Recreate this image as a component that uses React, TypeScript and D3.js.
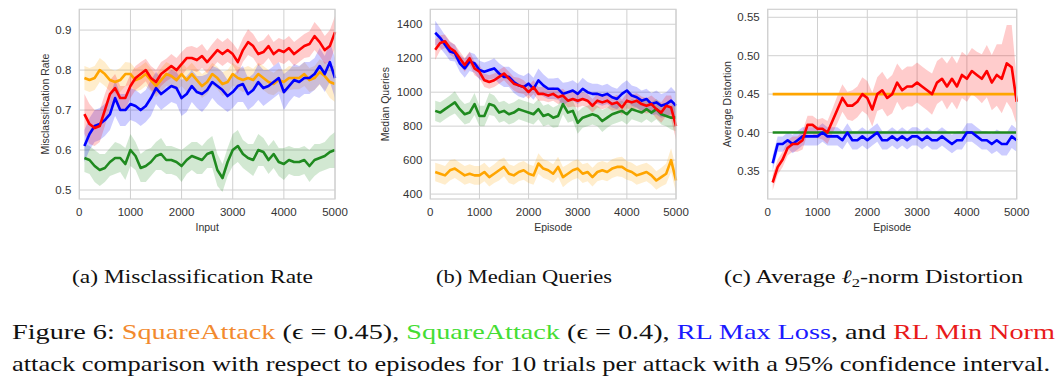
import React from "react";
import * as d3 from "d3";

// Episodes at which the moving average is sampled
const episodes = d3.range(100, 5001, 100);

// ---------- Panel (a): Misclassification Rate ----------
const misSq045 = [0.78,0.775,0.78,0.80,0.79,0.775,0.77,0.775,0.79,0.79, 0.775,0.78,0.79,0.775,0.76,0.775,0.79,0.785,0.775,0.79, 0.775,0.79,0.775,0.76,0.77,0.79,0.78,0.765,0.77,0.79, 0.78,0.775,0.78,0.775,0.79,0.78,0.77,0.765,0.775,0.77, 0.78,0.78,0.78,0.79,0.775,0.78,0.795,0.785,0.77,0.765];
const misSq040 = [0.58,0.575,0.56,0.55,0.555,0.57,0.58,0.58,0.565,0.60, 0.585,0.555,0.56,0.57,0.585,0.59,0.575,0.575,0.57,0.56, 0.575,0.585,0.58,0.575,0.59,0.595,0.55,0.53,0.57,0.60, 0.61,0.59,0.58,0.575,0.60,0.595,0.575,0.59,0.57,0.565, 0.575,0.57,0.57,0.575,0.56,0.575,0.58,0.585,0.595,0.60];
const misMaxLoss = [0.61,0.64,0.66,0.665,0.675,0.69,0.73,0.70,0.70,0.715, 0.71,0.70,0.71,0.73,0.755,0.74,0.75,0.76,0.755,0.73, 0.74,0.76,0.745,0.74,0.75,0.77,0.76,0.75,0.735,0.745, 0.76,0.765,0.74,0.75,0.77,0.755,0.76,0.77,0.78,0.745, 0.76,0.775,0.77,0.78,0.78,0.79,0.81,0.79,0.82,0.78];
const misMinNorm = [0.69,0.665,0.655,0.66,0.70,0.74,0.755,0.73,0.73,0.76, 0.78,0.79,0.80,0.78,0.77,0.79,0.80,0.81,0.80,0.815, 0.83,0.83,0.825,0.835,0.82,0.835,0.85,0.84,0.85,0.84, 0.82,0.85,0.87,0.86,0.84,0.845,0.86,0.84,0.85,0.845, 0.855,0.84,0.85,0.86,0.865,0.885,0.87,0.85,0.86,0.895];
const misSq045Ci = [0.03,0.03,0.03,0.03,0.03,0.028,0.028,0.03,0.03,0.028, 0.028,0.03,0.03,0.028,0.028,0.03,0.03,0.028,0.028,0.03, 0.03,0.028,0.028,0.03,0.03,0.028,0.028,0.03,0.03,0.028, 0.028,0.03,0.03,0.028,0.028,0.03,0.03,0.028,0.028,0.03, 0.03,0.028,0.028,0.03,0.03,0.03,0.032,0.035,0.04,0.045];
const misSq040Ci = [0.035,0.035,0.04,0.04,0.035,0.035,0.04,0.035,0.04,0.04, 0.035,0.035,0.04,0.035,0.035,0.04,0.035,0.035,0.035,0.04, 0.035,0.035,0.04,0.035,0.035,0.04,0.04,0.035,0.035,0.04, 0.04,0.035,0.035,0.04,0.04,0.035,0.035,0.035,0.035,0.04, 0.035,0.035,0.035,0.035,0.04,0.04,0.035,0.035,0.04,0.045];
const misMaxLossCi = [0.04,0.04,0.04,0.04,0.04,0.04,0.045,0.04,0.04,0.04, 0.04,0.04,0.04,0.045,0.04,0.04,0.04,0.04,0.04,0.045, 0.045,0.04,0.04,0.045,0.04,0.04,0.045,0.045,0.04,0.04, 0.04,0.045,0.04,0.04,0.045,0.045,0.04,0.04,0.04,0.045, 0.04,0.04,0.04,0.04,0.04,0.04,0.045,0.045,0.05,0.05];
const misMinNormCi = [0.05,0.05,0.045,0.04,0.04,0.035,0.035,0.03,0.03,0.03, 0.03,0.03,0.028,0.03,0.03,0.03,0.028,0.03,0.03,0.03, 0.028,0.03,0.03,0.03,0.028,0.03,0.03,0.03,0.03,0.028, 0.03,0.03,0.032,0.03,0.03,0.03,0.03,0.03,0.03,0.03, 0.03,0.03,0.03,0.03,0.032,0.035,0.035,0.035,0.04,0.04];
const misTicks = [0.5, 0.6, 0.7, 0.8, 0.9];

// ---------- Panel (b): Median Queries ----------
const qSq045 = [530,520,510,540,550,530,510,520,510,510, 530,500,520,540,560,520,510,530,540,520, 510,580,550,540,520,560,500,520,540,550, 520,530,500,530,540,530,550,560,560,540, 530,510,520,530,510,480,500,520,600,480];
const qSq040 = [890,880,900,920,940,900,870,880,930,860, 860,930,920,880,890,870,880,900,890,880, 870,900,860,870,850,860,930,880,890,820, 850,860,870,860,830,850,870,880,890,870, 900,890,880,900,880,900,870,860,850,850];
const qMaxLoss = [1350,1320,1280,1240,1230,1170,1140,1180,1170,1130, 1120,1130,1140,1110,1090,1090,1060,1040,1030,1050, 1020,1070,1040,1020,1020,1020,990,1000,1010,990, 1020,1000,990,990,980,990,970,960,990,1010, 980,970,950,960,930,940,920,930,950,920];
const qMinNorm = [1250,1290,1300,1260,1240,1200,1160,1200,1140,1120, 1070,1060,1070,1090,1110,1080,1050,1040,1030,1000, 1030,990,990,980,990,970,980,950,960,950, 960,950,920,950,940,950,930,940,910,950, 940,950,930,920,930,900,880,920,910,800];
const qSq045Ci = [55,55,55,60,55,55,55,55,55,55, 55,55,55,60,55,55,55,55,55,55, 55,60,55,55,55,60,60,55,55,55, 55,55,55,55,55,55,55,55,60,55, 55,55,55,55,55,55,55,60,70,70];
const qSq040Ci = [60,60,60,60,65,60,60,60,65,60, 60,65,60,60,60,60,60,60,60,60, 60,60,60,60,60,65,60,60,60,65, 60,60,60,60,65,60,60,60,60,60, 60,60,60,60,60,60,60,60,70,80];
const qMaxLossCi = [70,60,55,55,50,50,55,55,55,55, 55,55,60,60,60,60,65,65,65,65, 65,70,65,60,60,65,65,60,60,60, 65,60,60,60,60,60,60,60,60,60, 60,60,60,60,65,70,70,70,80,80];
const qMinNormCi = [60,45,40,40,40,40,40,40,40,40, 40,40,40,40,40,40,40,45,40,40, 40,40,40,40,40,40,40,40,45,40, 40,40,40,40,40,40,40,45,45,45, 45,45,45,45,50,55,60,60,70,80];
const qTicks = [400, 600, 800, 1000, 1200, 1400];

// ---------- Panel (c): Average Distortion ----------
const dSq045 = episodes.map(() => 0.45);
const dSq040 = episodes.map(() => 0.40);
const dMaxLoss = [0.36,0.385,0.385,0.39,0.385,0.39,0.395,0.395,0.395,0.395, 0.40,0.395,0.395,0.395,0.39,0.40,0.39,0.39,0.395,0.39, 0.395,0.40,0.39,0.39,0.395,0.39,0.395,0.39,0.395,0.395, 0.39,0.395,0.39,0.39,0.395,0.39,0.385,0.39,0.39,0.40, 0.40,0.395,0.39,0.39,0.385,0.39,0.385,0.385,0.395,0.39];
const dMinNorm = [0.335,0.355,0.365,0.38,0.385,0.385,0.39,0.41,0.41,0.405, 0.405,0.40,0.415,0.43,0.445,0.435,0.435,0.44,0.45,0.445, 0.43,0.45,0.455,0.445,0.45,0.465,0.455,0.46,0.46,0.465, 0.46,0.455,0.45,0.465,0.47,0.46,0.47,0.46,0.475,0.47, 0.48,0.475,0.47,0.48,0.465,0.475,0.47,0.49,0.485,0.44];
const dMaxLossCi = [0.01,0.01,0.01,0.01,0.012,0.012,0.012,0.012,0.012,0.012, 0.012,0.012,0.012,0.012,0.012,0.012,0.012,0.012,0.012,0.012, 0.012,0.012,0.012,0.012,0.012,0.012,0.012,0.012,0.012,0.012, 0.012,0.012,0.012,0.012,0.012,0.012,0.012,0.012,0.012,0.012, 0.012,0.012,0.012,0.012,0.013,0.014,0.015,0.015,0.015,0.015];
const dMinNormCi = [0.01,0.01,0.01,0.01,0.01,0.01,0.012,0.012,0.012,0.012, 0.014,0.015,0.016,0.018,0.018,0.018,0.02,0.02,0.022,0.022, 0.022,0.022,0.024,0.024,0.025,0.025,0.026,0.026,0.026,0.026, 0.026,0.026,0.027,0.028,0.028,0.03,0.03,0.03,0.03,0.03, 0.03,0.03,0.032,0.034,0.036,0.04,0.045,0.05,0.055,0.03];
const dTicks = [0.35, 0.40, 0.45, 0.50, 0.55];

const xTicks = [0, 1000, 2000, 3000, 4000, 5000];

const COLORS = { sq045: "#ffa500", sq040: "#1f8a1f", maxLoss: "#0000ff", minNorm: "#ff0000" };

type Series = { values: number[]; ci?: number[]; color: string };

type PanelProps = {
  left: number; right: number; top: number; bottom: number;
  yDomain: [number, number];
  yTicks: number[];
  yFormat: (v: number) => string;
  yLabel: string; yLabelX: number;
  xLabel: string;
  series: Series[];
};

const SANS = "Arial, 'Liberation Sans', Helvetica, sans-serif";
const SERIF = "'Liberation Serif', 'Times New Roman', Times, serif";

function Panel(p: PanelProps) {
  const x = d3.scaleLinear().domain([0, 5000]).range([p.left, p.right]);
  const y = d3.scaleLinear().domain(p.yDomain).range([p.bottom, p.top]);
  const line = d3.line<number>().x((_, i) => x(episodes[i])).y((v) => y(v));
  const grid = "#d0d0d0";
  const tickColor = "#333";
  return (
    <g>
      <rect x={p.left} y={p.top} width={p.right - p.left} height={p.bottom - p.top} fill="white" />
      {xTicks.map((t) => (
        <line key={"gx" + t} x1={x(t)} x2={x(t)} y1={p.top} y2={p.bottom} stroke={grid} strokeWidth={1} />
      ))}
      {p.yTicks.map((t) => (
        <line key={"gy" + t} x1={p.left} x2={p.right} y1={y(t)} y2={y(t)} stroke={grid} strokeWidth={1} />
      ))}
      {p.series.map((s, k) =>
        s.ci ? (
          <path
            key={"band" + k}
            d={
              d3
                .area<number>()
                .x((_, i) => x(episodes[i]))
                .y0((v, i) => y(v - (s.ci as number[])[i]))
                .y1((v, i) => y(v + (s.ci as number[])[i]))(s.values) || ""
            }
            fill={s.color}
            fillOpacity={0.2}
            stroke="none"
          />
        ) : null
      )}
      {p.series.map((s, k) => (
        <path key={"line" + k} d={line(s.values) || ""} fill="none" stroke={s.color} strokeWidth={2.6} strokeLinejoin="round" />
      ))}
      <rect x={p.left} y={p.top} width={p.right - p.left} height={p.bottom - p.top} fill="none" stroke={grid} strokeWidth={1.2} />
      {xTicks.map((t) => (
        <text key={"tx" + t} x={x(t)} y={p.bottom + 17} textAnchor="middle" fontFamily={SANS} fontSize={11.5} fill={tickColor}>
          {t}
        </text>
      ))}
      {p.yTicks.map((t) => (
        <text key={"ty" + t} x={p.left - 8} y={y(t) + 4} textAnchor="end" fontFamily={SANS} fontSize={11.5} fill={tickColor}>
          {p.yFormat(t)}
        </text>
      ))}
      <text x={(p.left + p.right) / 2} y={p.bottom + 32} textAnchor="middle" fontFamily={SANS} fontSize={10.5} fill={tickColor}>
        {p.xLabel}
      </text>
      <text
        transform={`translate(${p.yLabelX},${(p.top + p.bottom) / 2}) rotate(-90)`}
        textAnchor="middle"
        dominantBaseline="central"
        fontFamily={SANS}
        fontSize={10.5}
        fill={tickColor}
      >
        {p.yLabel}
      </text>
    </g>
  );
}

export default function App() {
  return (
    <svg width={1063} height={383} style={{ position: "absolute", left: 0, top: 0, background: "white" }}>
      <rect x={0} y={0} width={1063} height={383} fill="white" />
      <Panel
        left={79.3} right={335} top={9.3} bottom={199}
        yDomain={[0.4775, 0.952]} yTicks={misTicks} yFormat={d3.format(".1f")}
        yLabel="Misclassification Rate" yLabelX={45} xLabel="Input"
        series={[
          { values: misSq045, ci: misSq045Ci, color: COLORS.sq045 },
          { values: misSq040, ci: misSq040Ci, color: COLORS.sq040 },
          { values: misMaxLoss, ci: misMaxLossCi, color: COLORS.maxLoss },
          { values: misMinNorm, ci: misMinNormCi, color: COLORS.minNorm },
        ]}
      />
      <Panel
        left={430.3} right={676} top={9.3} bottom={199}
        yDomain={[371, 1488]} yTicks={qTicks} yFormat={d3.format("d")}
        yLabel="Median Queries" yLabelX={385} xLabel="Episode"
        series={[
          { values: qSq045, ci: qSq045Ci, color: COLORS.sq045 },
          { values: qSq040, ci: qSq040Ci, color: COLORS.sq040 },
          { values: qMaxLoss, ci: qMaxLossCi, color: COLORS.maxLoss },
          { values: qMinNorm, ci: qMinNormCi, color: COLORS.minNorm },
        ]}
      />
      <Panel
        left={767.7} right={1016.7} top={9.3} bottom={199}
        yDomain={[0.3135, 0.5604]} yTicks={dTicks} yFormat={d3.format(".2f")}
        yLabel="Average Distortion" yLabelX={727} xLabel="Episode"
        series={[
          { values: dSq045, color: COLORS.sq045 },
          { values: dSq040, color: COLORS.sq040 },
          { values: dMaxLoss, ci: dMaxLossCi, color: COLORS.maxLoss },
          { values: dMinNorm, ci: dMinNormCi, color: COLORS.minNorm },
        ]}
      />
      <text x={72} y={283} fontFamily={SERIF} fontSize={19} fill="#111" textLength={241} lengthAdjust="spacingAndGlyphs">
        (a) Misclassification Rate
      </text>
      <text x={436} y={283} fontFamily={SERIF} fontSize={19} fill="#111" textLength={176} lengthAdjust="spacingAndGlyphs">
        (b) Median Queries
      </text>
      <text x={724} y={283} fontFamily={SERIF} fontSize={19} fill="#111" textLength={299} lengthAdjust="spacingAndGlyphs">
        (c) Average <tspan fontStyle="italic">ℓ</tspan>
        <tspan fontSize={13} dy={4}>2</tspan>
        <tspan dy={-4}>-norm Distortion</tspan>
      </text>
      <text x={12} y={339} fontFamily={SERIF} fontSize={21.5} fill="#111" textLength={1043} lengthAdjust="spacingAndGlyphs">
        Figure 6:{"  "}
        <tspan fill="#f28a2e">SquareAttack</tspan>
        <tspan> (ϵ  =  0.45), </tspan>
        <tspan fill="#44dd33">SquareAttack</tspan>
        <tspan> (ϵ  =  0.4), </tspan>
        <tspan fill="#1a1aff">RL Max Loss</tspan>
        <tspan>, and </tspan>
        <tspan fill="#e81a1a">RL Min Norm</tspan>
      </text>
      <text x={12} y={371} fontFamily={SERIF} fontSize={21.5} fill="#111" textLength={1038} lengthAdjust="spacingAndGlyphs">
        attack comparison with respect to episodes for 10 trials per attack with a 95% confidence interval.
      </text>
    </svg>
  );
}
